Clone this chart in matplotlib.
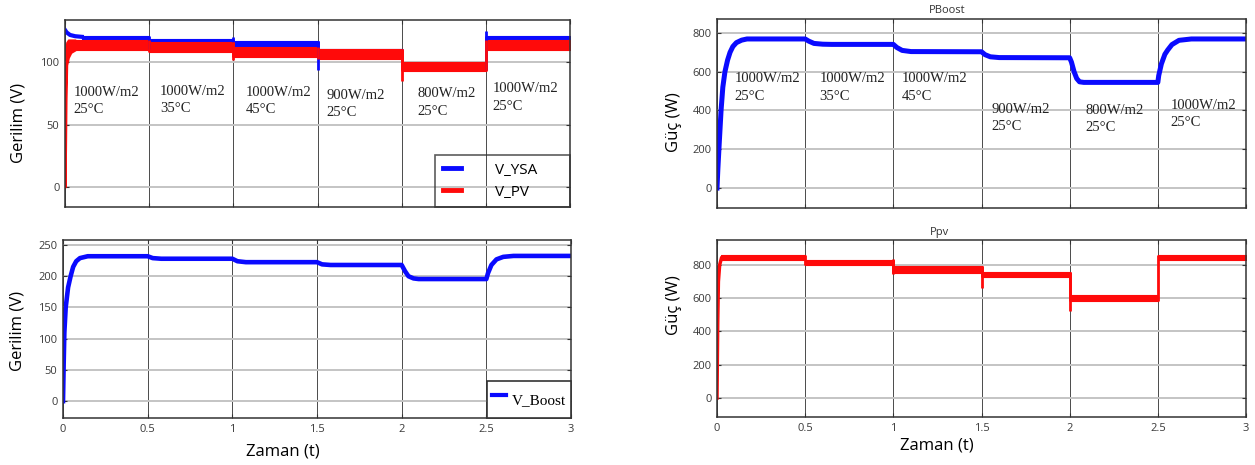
import numpy as np
import matplotlib
matplotlib.use('Agg')
import matplotlib.pyplot as plt

plt.rcParams['font.family'] = ['Open Sans', 'DejaVu Sans']

# ===============================================
# DATA
# ===============================================
SEG_EDGES = [0.0, 0.5, 1.0, 1.5, 2.0, 2.5, 3.0]
IRRADIANCE = ['1000W/m2', '1000W/m2', '1000W/m2', '900W/m2', '800W/m2', '1000W/m2']
TEMPS = ['25°C', '35°C', '45°C', '25°C', '25°C', '25°C']
XTICKS = [0, 0.5, 1, 1.5, 2, 2.5, 3]
XTICK_LABELS = ['0', '0.5', '1', '1.5', '2', '2.5', '3']

# V_YSA / V_PV (top left), ripple band per segment
VYSA_LO = [112, 111, 112, 104, 94, 112]
VYSA_HI = [121, 119, 117, 110.5, 99, 121]
VYSA_START_T = [0.0, 0.01, 0.03, 0.06, 0.1]
VYSA_START_V = [126, 124, 122, 121, 120.5]
VYSA_SPK_T = [1.0, 1.5, 2.5]
VYSA_SPK_V = [120, 94, 125]

VPV_LO = [110, 108, 104.5, 103, 93, 110]
VPV_HI = [118, 116.5, 112.5, 110.5, 100.5, 118]
VPV_START_T = [0.0, 0.003, 0.006, 0.01, 0.02, 0.035, 0.06]
VPV_START_LO = [0, 30, 70, 98, 104, 108, 110]
VPV_START_HI = [0, 80, 110, 116, 118, 118, 118]
VPV_SPK_T = [1.0, 2.0]
VPV_SPK_V = [102, 85]

# V_Boost (bottom left)
VB_T = [0.0, 0.004, 0.008, 0.016, 0.03, 0.045, 0.06, 0.078, 0.1, 0.146,
        0.5, 0.53, 0.58, 1.0, 1.03, 1.08, 1.5, 1.53, 1.58,
        2.0, 2.02, 2.04, 2.07, 2.1, 2.5, 2.51, 2.53, 2.56, 2.6, 2.66, 3.0]
VB_V = [0, 60, 110, 150, 182, 200, 215, 224, 229, 232,
        232, 229, 228, 228, 224, 222.5, 222.5, 219, 218,
        218, 208, 200, 196.5, 195.5, 195.5, 205, 218, 227, 231, 232.5, 232.5]

# PBoost (top right)
PB_T = [0.0, 0.005, 0.012, 0.023, 0.033, 0.045, 0.06, 0.074, 0.09, 0.11, 0.14, 0.17,
        0.5, 0.52, 0.55, 0.6, 0.65, 1.0, 1.02, 1.05, 1.1, 1.5, 1.52, 1.55, 1.6,
        2.0, 2.01, 2.025, 2.04, 2.056, 2.08, 2.5, 2.505, 2.52, 2.54, 2.556, 2.58, 2.62, 2.69, 3.0]
PB_V = [0, 100, 220, 400, 520, 600, 660, 700, 730, 750, 763, 769,
        769, 758, 746, 742, 741, 741, 725, 710, 704, 703, 688, 677, 673,
        672, 650, 600, 565, 548, 545, 545, 580, 640, 690, 712, 740, 762, 769, 769]

# Ppv (bottom right), ripple band per segment
PPV_LO = [830, 800, 750, 725, 582, 830]
PPV_HI = [858, 828, 792, 760, 618, 858]
PPV_START_T = [0.0, 0.004, 0.008, 0.015, 0.025]
PPV_START_V = [0, 450, 700, 800, 840]
PPV_SPK_T = [1.0, 1.0, 1.5, 2.0]
PPV_SPK_V = [836, 743, 663, 526]

BLUE = '#0a0aff'
RED = '#ff0a0a'

# ===============================================
# FIGURE
# ===============================================
W, H = 1255, 465
fig = plt.figure(figsize=(W / 100, H / 100), dpi=100)


def px_axes(l, t, r, b):
    return fig.add_axes([l / W, 1 - b / H, (r - l) / W, (b - t) / H])


def style(ax, ylim, yticks, xlabels=True):
    ax.set_xlim(0, 3)
    ax.set_ylim(*ylim)
    ax.set_yticks(yticks)
    ax.set_xticks(XTICKS)
    ax.set_xticklabels(XTICK_LABELS if xlabels else [])
    ax.tick_params(direction='in', length=3, width=0.8, top=True, right=True,
                   labelsize=8, labelcolor='#3a3a3a', color='#333333', pad=4)
    ax.yaxis.grid(True, color='#c4c4c4', lw=1.4)
    ax.xaxis.grid(True, color='#4a4a4a', lw=0.7)
    ax.set_axisbelow(True)
    for s in ax.spines.values():
        s.set_color('#333333')
        s.set_linewidth(1.1)


def draw_band(ax, lo, hi, color, t_start, spk_t, spk_v):
    for i in range(len(lo)):
        t0 = t_start if i == 0 else SEG_EDGES[i]
        ax.fill_between([t0, SEG_EDGES[i + 1]], lo[i], hi[i], color=color, lw=0.8, edgecolor=color)
    for i in range(1, len(lo)):
        ax.vlines(SEG_EDGES[i], min(lo[i - 1], lo[i]), max(hi[i - 1], hi[i]), color=color, lw=2)
    for t, v in zip(spk_t, spk_v):
        i = SEG_EDGES.index(t)
        y0 = min(lo[i - 1], lo[i])
        y1 = max(hi[i - 1], hi[i])
        ax.vlines(t, min(v, y0), max(v, y1), color=color, lw=2)


def label_blocks(ax, xs, ys, size):
    for x, y, irr, tmp in zip(xs, ys, IRRADIANCE, TEMPS):
        ax.text(x, y, irr + '\n' + tmp, family='Liberation Serif', fontsize=size,
                va='center', ha='left', linespacing=1.45, color='#222222')


# --- top left: V_YSA and V_PV
ax1 = px_axes(65, 20, 570, 207)
style(ax1, (-16, 134), [0, 50, 100], xlabels=False)
draw_band(ax1, VYSA_LO, VYSA_HI, BLUE, VYSA_START_T[-1], VYSA_SPK_T, VYSA_SPK_V)
ax1.plot(VYSA_START_T, VYSA_START_V, color=BLUE, lw=3)
ax1.fill_between(VPV_START_T, VPV_START_LO, VPV_START_HI, color=RED, lw=1.5, edgecolor=RED)
draw_band(ax1, VPV_LO, VPV_HI, RED, VPV_START_T[-1], VPV_SPK_T, VPV_SPK_V)
label_blocks(ax1, [0.05, 0.565, 1.075, 1.553, 2.096, 2.54], [69, 70, 69, 66.8, 68, 72], 10.5)
ax1.plot([], [], color=BLUE, lw=3.5, label='V_YSA')
ax1.plot([], [], color=RED, lw=3.5, label='V_PV')
leg1 = ax1.legend(loc='upper left', bbox_to_anchor=(0.733, -0.032, 0.267, 0.31), mode='expand',
                  borderaxespad=0, fontsize=11, handlelength=1.2, handletextpad=2.2,
                  labelspacing=0.45, borderpad=0.5, fancybox=False)
leg1.get_frame().set_facecolor('none')
leg1.get_frame().set_edgecolor('#333333')
leg1.get_frame().set_linewidth(1.2)
ax1.set_ylabel('Gerilim (V)', fontsize=12)
ax1.yaxis.set_label_coords(-0.077, 0.45)

# --- bottom left: V_Boost
ax2 = px_axes(63, 240, 571, 418)
style(ax2, (-27, 258), [0, 50, 100, 150, 200, 250])
ax2.plot(VB_T, VB_V, color=BLUE, lw=3.3)
ax2.plot([], [], color=BLUE, lw=3, label='V_Boost')
leg2 = ax2.legend(loc='lower left', bbox_to_anchor=(0.835, 0, 0.165, 0.23), mode='expand',
                  borderaxespad=0, prop={'family': 'Liberation Serif', 'size': 11},
                  handlelength=0.9, handletextpad=0.4, handleheight=2.4, borderpad=0.3,
                  fancybox=False, framealpha=1)
leg2.get_frame().set_edgecolor('#333333')
leg2.get_frame().set_linewidth(1.2)
ax2.set_ylabel('Gerilim (V)', fontsize=12)
ax2.yaxis.set_label_coords(-0.073, 0.49)
ax2.set_xlabel('Zaman (t)', fontsize=12)
ax2.xaxis.set_label_coords(0.433, -0.145)

# --- top right: PBoost
ax3 = px_axes(717, 19, 1246, 208)
style(ax3, (-103, 872), [0, 200, 400, 600, 800], xlabels=False)
ax3.plot(PB_T, PB_V, color=BLUE, lw=3.6)
label_blocks(ax3, [0.098, 0.58, 1.05, 1.555, 2.09, 2.573], [519, 519, 519, 360, 355, 383], 10.5)
ax3.text(0.435, 1.015, 'PBoost', transform=ax3.transAxes, ha='center', va='bottom',
         fontsize=8, color='#333333')
ax3.set_ylabel('Güç (W)', fontsize=12)
ax3.yaxis.set_label_coords(-0.066, 0.455)

# --- bottom right: Ppv
ax4 = px_axes(717, 240, 1246, 417)
style(ax4, (-114, 950), [0, 200, 400, 600, 800])
ax4.plot(PPV_START_T, PPV_START_V, color=RED, lw=2.5)
draw_band(ax4, PPV_LO, PPV_HI, RED, PPV_START_T[-1], PPV_SPK_T, PPV_SPK_V)
ax4.text(0.42, 1.01, 'Ppv', transform=ax4.transAxes, ha='center', va='bottom',
         fontsize=8, color='#333333')
ax4.set_ylabel('Güç (W)', fontsize=12)
ax4.yaxis.set_label_coords(-0.066, 0.63)
ax4.set_xlabel('Zaman (t)', fontsize=12)
ax4.xaxis.set_label_coords(0.416, -0.115)

plt.savefig('out.png', dpi=100)
